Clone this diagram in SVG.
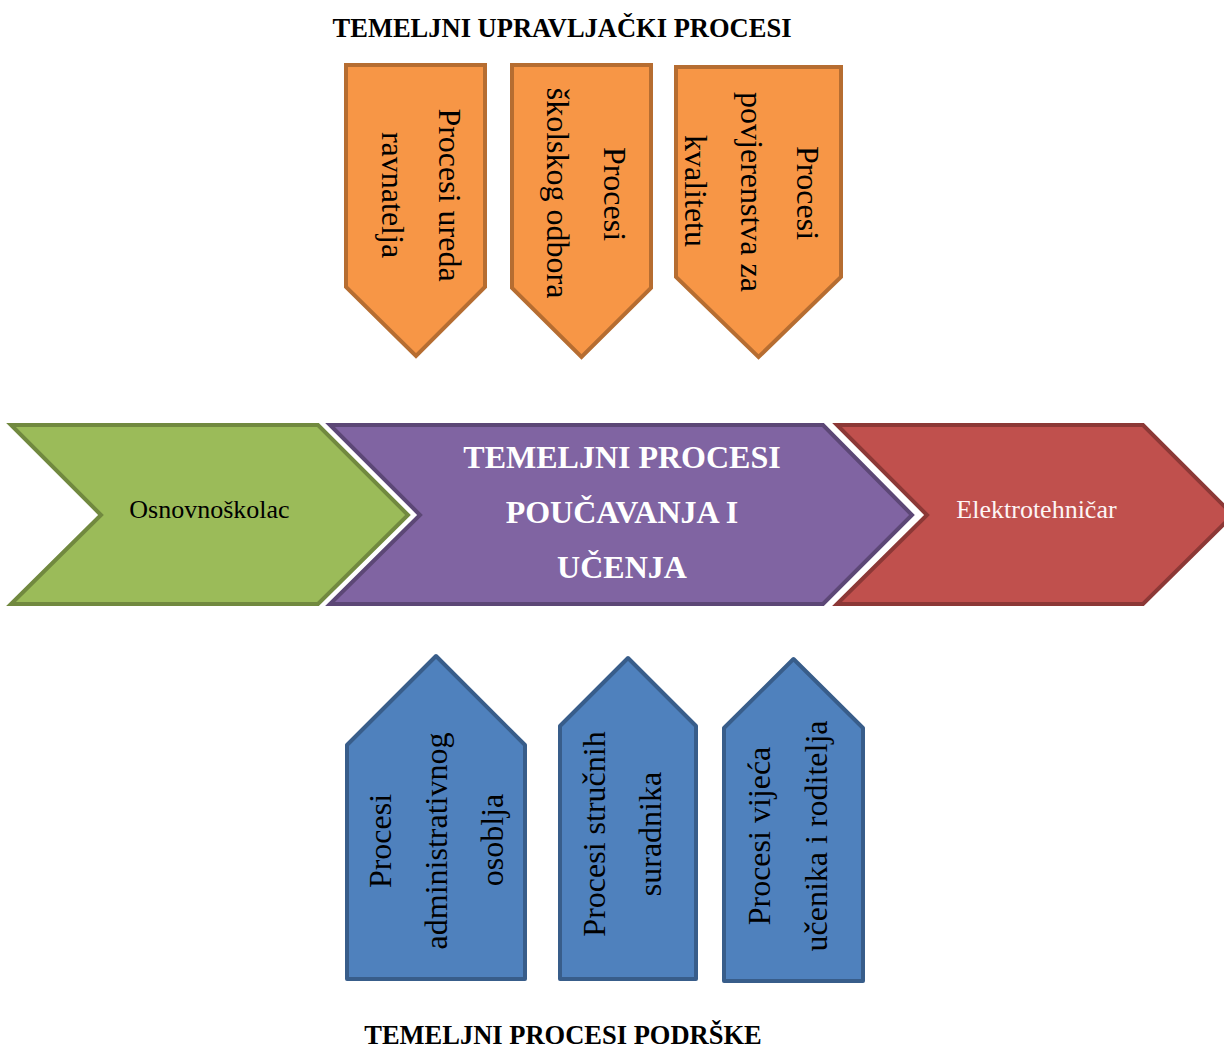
<svg xmlns="http://www.w3.org/2000/svg" width="1224" height="1050" viewBox="0 0 1224 1050">
<style>
.t{font-family:"Liberation Serif","Times New Roman",serif;}
.title{font-size:26.5px;font-weight:bold;fill:#000;}
.vt{font-size:32px;fill:#000;text-anchor:middle;dominant-baseline:central;}
.or{fill:#f79646;stroke:#b66d31;stroke-width:4;stroke-linejoin:miter;}
.bl{fill:#4f81bd;stroke:#385d8a;stroke-width:4;stroke-linejoin:round;}
.gr{fill:#9bbb59;stroke:#71893f;stroke-width:4;}
.pu{fill:#8064a2;stroke:#5c4776;stroke-width:4;}
.rd{fill:#c0504d;stroke:#8c3836;stroke-width:4;}
</style>
<rect width="1224" height="1050" fill="#fff"/>
<text class="t title" x="562" y="37" text-anchor="middle">TEMELJNI UPRAVLJAČKI PROCESI</text>
<g id="up1">
<polygon class="or" points="346,65 485,65 485,287 416,356 346,287"/>
<text class="t vt" transform="translate(450,195) rotate(90)">Procesi ureda</text>
<text class="t vt" transform="translate(393,195) rotate(90)">ravnatelja</text>
</g>
<g id="up2">
<polygon class="or" points="512,65 651,65 651,288 581.5,357 512,288"/>
<text class="t vt" transform="translate(615,194) rotate(90)">Procesi</text>
<text class="t vt" transform="translate(558,193) rotate(90)">školskog odbora</text>
</g>
<g id="up3">
<polygon class="or" points="676,67 841,67 841,277 758.5,357 676,277"/>
<text class="t vt" transform="translate(808,193) rotate(90)">Procesi</text>
<text class="t vt" transform="translate(752,192) rotate(90)">povjerenstva za</text>
<text class="t vt" transform="translate(696,191) rotate(90)">kvalitetu</text>
</g>
<g id="green">
<polygon class="gr" points="11,425 318,425 408,515 318,604 11,604 101,515"/>
<text class="t" x="209.5" y="509" font-size="26" text-anchor="middle" dominant-baseline="central" fill="#000">Osnovnoškolac</text>
</g>
<g id="purple">
<polygon class="pu" points="330,425 823,425 912,515 823,604 330,604 420,515"/>
<text class="t" x="622" y="457" font-size="32" font-weight="bold" text-anchor="middle" dominant-baseline="central" fill="#fff">TEMELJNI PROCESI</text>
<text class="t" x="622" y="512" font-size="32" font-weight="bold" text-anchor="middle" dominant-baseline="central" fill="#fff">POUČAVANJA I</text>
<text class="t" x="622" y="567" font-size="32" font-weight="bold" text-anchor="middle" dominant-baseline="central" fill="#fff">UČENJA</text>
</g>
<g id="red">
<polygon class="rd" points="837,425 1143,425 1233,515 1143,604 837,604 927,515"/>
<text class="t" x="1036.5" y="509" font-size="26" text-anchor="middle" dominant-baseline="central" fill="#fdf5f5">Elektrotehničar</text>
</g>
<g id="down1">
<polygon class="bl" points="436,656 525,745 525,979 347,979 347,745"/>
<text class="t vt" transform="translate(380,841) rotate(-90)">Procesi</text>
<text class="t vt" transform="translate(436,841) rotate(-90)">administrativnog</text>
<text class="t vt" transform="translate(492,840) rotate(-90)">osoblja</text>
</g>
<g id="down2">
<polygon class="bl" points="628,658 696,726 696,979 560,979 560,726"/>
<text class="t vt" transform="translate(594,834) rotate(-90)">Procesi stručnih</text>
<text class="t vt" transform="translate(650,834) rotate(-90)">suradnika</text>
</g>
<g id="down3">
<polygon class="bl" points="793.5,659 863,728 863,981 724,981 724,728"/>
<text class="t vt" transform="translate(759,836) rotate(-90)">Procesi vijeća</text>
<text class="t vt" transform="translate(816,836) rotate(-90)">učenika i roditelja</text>
</g>
<text class="t title" x="563" y="1044" text-anchor="middle">TEMELJNI PROCESI PODRŠKE</text>
<g id="connectors"></g>
</svg>
